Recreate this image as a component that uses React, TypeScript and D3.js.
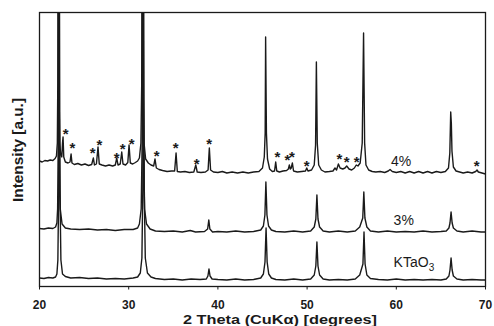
import React from "react";
import * as d3 from "d3";

// 2-theta tick labels
const xTicks = [20, 30, 40, 50, 60, 70];

// patterns: [2theta, intensity above own baseline]
const ktao: [number, number][] = [
  [20.0, 2], [20.5, 1.5], [21.0, 2.5], [21.5, 2], [21.8, 3], [21.95, 6], [22.06, 20], [22.15, 90],
  [22.21, 400], [22.29, 90], [22.4, 20], [22.58, 6], [22.9, 3.5], [23.5, 2], [24.5, 2.5], [25.5, 1.5],
  [26.5, 2], [27.5, 1], [28.5, 1.5], [29.5, 1], [30.5, 2], [31.0, 3], [31.3, 7], [31.48, 22], [31.58, 90],
  [31.65, 400], [31.74, 90], [31.86, 22], [32.1, 7], [32.5, 3], [33, 1.5], [34, 0.5], [35, 1], [36, 0],
  [37, 1], [38, 0.5], [38.7, 1], [38.88, 4], [39.0, 11], [39.12, 4], [39.35, 1], [40, 0.5], [41, 0],
  [42, 1], [43, 0], [44, 0.5], [44.8, 2], [45.1, 6], [45.28, 18], [45.4, 52], [45.52, 18], [45.7, 6],
  [46.0, 2], [46.5, 0.5], [47.5, 0], [48.5, 1], [49.5, 0], [50.4, 1], [50.8, 5], [50.98, 14], [51.1, 38],
  [51.22, 14], [51.4, 5], [51.8, 1], [52.5, 0], [53.5, 0.5], [54.5, 0], [55.4, 1], [55.9, 5], [56.26, 16],
  [56.38, 48], [56.5, 16], [56.7, 5], [57.1, 1.5], [58, 0.5], [59, 0], [60, 1], [61, 0], [62, 0.5],
  [63, 0], [64, 0.5], [65, 0], [65.6, 1], [65.9, 4], [66.02, 10], [66.14, 22], [66.26, 10], [66.4, 4],
  [66.8, 1], [67.5, 0], [68.5, 0.5], [69.5, 0], [70, 0],
];

const doped3: [number, number][] = [
  [20, 2.5], [20.5, 2], [21, 3], [21.5, 2.5], [21.8, 4], [21.95, 8], [22.03, 22], [22.1, 90], [22.16, 400],
  [22.23, 90], [22.33, 22], [22.53, 7], [22.9, 3], [23.5, 2], [24.5, 1.5], [25.5, 2], [26.5, 1],
  [27.5, 1.5], [28.5, 0.5], [29.5, 1.5], [30.5, 1.5], [31.0, 3], [31.2, 7], [31.4, 22], [31.51, 90],
  [31.58, 400], [31.67, 90], [31.78, 22], [32.0, 7], [32.4, 2], [33, 0], [34, -0.5], [35, 0], [36, -1],
  [36.9, 0.5], [37.5, -1], [38.5, -0.5], [38.85, 2], [38.98, 11], [39.1, 2], [39.4, -1], [40, -0.5],
  [41, -1], [42, 0], [43, -1], [44, -0.5], [44.8, 1], [45.1, 5], [45.27, 16], [45.38, 49], [45.5, 16],
  [45.68, 5], [46.0, 1], [46.5, -0.5], [47.5, -1], [48.5, 0], [49.5, -1], [50.4, 0], [50.8, 4],
  [50.98, 12], [51.1, 36], [51.22, 12], [51.4, 4], [51.8, 0], [52.5, -1], [53.5, 0], [54.5, -1],
  [55.4, 0], [55.9, 4], [56.24, 13], [56.36, 39], [56.48, 13], [56.7, 4], [57.1, 0], [58, -1], [59, 0],
  [60, -1], [61, -0.5], [62, -1], [63, 0], [64, -1], [65, -0.5], [65.6, 0], [65.9, 3], [66.02, 8],
  [66.14, 19], [66.26, 8], [66.4, 3], [66.8, 0], [67.5, -1], [68.5, 0], [69.5, -1], [70, -1],
];

const doped4: [number, number][] = [
  [20.0, 12], [20.3, 11], [20.6, 12.5], [20.9, 12], [21.2, 13], [21.5, 12.5], [21.75, 14.5], [21.9, 17],
  [22.0, 30], [22.05, 90], [22.11, 400], [22.18, 90], [22.27, 30], [22.38, 18], [22.5, 16], [22.58, 30],
  [22.64, 36], [22.72, 16], [22.9, 11], [23.2, 10], [23.42, 11], [23.54, 19], [23.64, 10], [23.9, 8.5],
  [24.3, 9.5], [24.7, 8], [25.1, 9], [25.5, 7.5], [25.85, 8.5], [26.04, 15], [26.16, 8], [26.38, 9],
  [26.56, 26], [26.7, 9], [27.0, 8], [27.4, 7], [27.8, 8], [28.2, 7], [28.5, 8], [28.66, 15], [28.8, 8],
  [29.05, 9], [29.22, 21], [29.36, 9], [29.65, 8], [29.9, 10.5], [30.04, 28], [30.18, 10], [30.45, 9],
  [30.75, 10.5], [31.0, 12], [31.2, 15], [31.37, 30], [31.46, 90], [31.53, 400], [31.61, 90], [31.72, 30],
  [31.9, 14], [32.2, 10], [32.5, 8], [32.8, 7], [32.95, 14], [33.1, 5], [33.4, 3.5], [33.8, 2.5],
  [34.3, 1.5], [34.8, 2], [35.15, 2], [35.31, 20], [35.45, 1.5], [35.8, 1], [36.3, 1.5], [36.8, 0.5],
  [37.3, 1], [37.52, 8], [37.68, 1], [38.1, 0.5], [38.6, 1], [38.9, 3], [39.04, 25], [39.18, 3],
  [39.5, 1], [40.0, 0.5], [40.5, 1.5], [41.0, 0], [41.6, 1], [42.2, 0], [42.8, 1], [43.4, 0], [44.0, 1],
  [44.6, 1.5], [45.0, 5], [45.2, 16], [45.3, 40], [45.35, 136], [45.44, 40], [45.56, 14], [45.8, 4],
  [46.1, 1.5], [46.35, 2], [46.48, 11], [46.6, 2], [46.9, 1], [47.3, 2], [47.7, 2.5], [47.9, 4],
  [48.01, 8], [48.12, 4], [48.22, 5], [48.35, 10], [48.48, 2], [48.9, 1], [49.4, 1.5], [49.82, 2],
  [49.96, 5], [50.1, 2], [50.5, 3], [50.8, 8], [50.95, 28], [51.04, 111], [51.14, 30], [51.3, 8],
  [51.6, 3], [52.0, 1], [52.5, 1.5], [52.9, 2], [53.13, 5], [53.3, 3], [53.51, 9], [53.7, 5], [54.0, 4],
  [54.25, 5], [54.44, 7], [54.7, 4], [55.0, 3], [55.3, 5], [55.51, 8], [55.7, 7], [55.95, 10],
  [56.18, 30], [56.33, 140], [56.45, 30], [56.6, 8], [56.9, 3], [57.3, 1.5], [57.7, 1], [58.2, 1.5],
  [58.7, 0.5], [59.1, 2], [59.3, 3.5], [59.55, 1.5], [60.0, 0.5], [60.5, 1.5], [61.0, 0], [61.5, 1.5],
  [62.0, 0], [62.5, 1.5], [63.0, 0], [63.5, 1.5], [64.0, 0], [64.5, 1.5], [65.0, 0.5], [65.5, 1.5],
  [65.85, 5], [66.0, 20], [66.1, 61], [66.17, 50], [66.24, 22], [66.4, 6], [66.7, 2], [67.1, 1],
  [67.5, 0], [68.0, 1], [68.5, 0], [68.9, 1.5], [69.05, 3], [69.2, 1], [69.6, 0], [70.0, -1],
];

// impurity markers on the 4% pattern: [2theta, level]
const stars: [number, number][] = [
  [22.94, 43], [23.68, 29], [25.97, 24], [26.71, 32], [28.66, 19], [29.33, 28], [30.34, 33],
  [33.14, 21], [35.27, 29], [37.63, 13], [39.01, 33], [46.66, 20], [47.78, 17], [48.31, 20],
  [49.96, 11], [53.61, 18], [54.44, 15], [55.56, 15], [69.02, 11],
];

const W = 494;
const H = 326;
const left = 39.5, right = 485.5, top = 12.5, bottom = 286.5;
const font = "'Liberation Sans', Arial, Helvetica, sans-serif";
const ink = "#1a1a1a";

// vertical stacking offsets
const off = { kt: 6.5, p3: 55.5, p4: 113.5 };

export default function App() {
  const x = d3.scaleLinear().domain([20, 70]).range([left, right]);
  const y = d3.scaleLinear().domain([0, 274]).range([bottom, top]);

  const line = (o: number) =>
    d3.line<[number, number]>()
      .x((d) => x(d[0]))
      .y((d) => y(d[1] + o));

  const traces = [
    { data: ktao, o: off.kt },
    { data: doped3, o: off.p3 },
    { data: doped4, o: off.p4 },
  ];

  return (
    <svg width={W} height={H} style={{ position: "absolute", left: 0, top: 0, background: "#fff" }}>
      <defs>
        <clipPath id="plot">
          <rect x={left} y={top} width={right - left} height={bottom - top} />
        </clipPath>
      </defs>
      <g clipPath="url(#plot)">
        {traces.map((t, i) => (
          <path key={i} d={line(t.o)(t.data) || ""} fill="none" stroke={ink} strokeWidth={1.4} strokeLinejoin="round" />
        ))}
      </g>
      <rect x={left} y={top} width={right - left} height={bottom - top} fill="none" stroke={ink} strokeWidth={1.3} />
      {xTicks.map((t) => (
        <g key={t}>
          <line x1={x(t)} x2={x(t)} y1={bottom} y2={bottom + 3} stroke={ink} strokeWidth={1} />
          <text x={x(t)} y={309} textAnchor="middle" fontFamily={font} fontSize={12} fontWeight="bold" fill={ink}>
            {t}
          </text>
        </g>
      ))}
      {stars.map((s, i) => (
        <text key={i} x={x(s[0])} y={y(s[1] + off.p4) + 8.5} textAnchor="middle" fontFamily={font} fontSize={15}
          fontWeight="bold" fill={ink}>
          *
        </text>
      ))}
      <text x={x(59.4)} y={y(off.p4) - 7} fontFamily={font} fontSize={14} fill={ink}>4%</text>
      <text x={x(59.7)} y={y(off.p3) - 6} fontFamily={font} fontSize={14} fill={ink}>3%</text>
      <text x={x(59.7)} y={y(off.kt) - 13} fontFamily={font} fontSize={14} fill={ink}>
        KTaO<tspan fontSize={10} dy={4}>3</tspan>
      </text>
      <text x={280} y={324} textAnchor="middle" fontFamily={font} fontSize={13} fontWeight="bold" fill={ink}
        textLength={194} lengthAdjust="spacingAndGlyphs">
        2 Theta (CuKα) [degrees]
      </text>
      <text transform="translate(23,150) rotate(-90)" textAnchor="middle" fontFamily={font} fontSize={14}
        fontWeight="bold" fill={ink} textLength={104} lengthAdjust="spacingAndGlyphs">
        Intensity [a.u.]
      </text>
    </svg>
  );
}
